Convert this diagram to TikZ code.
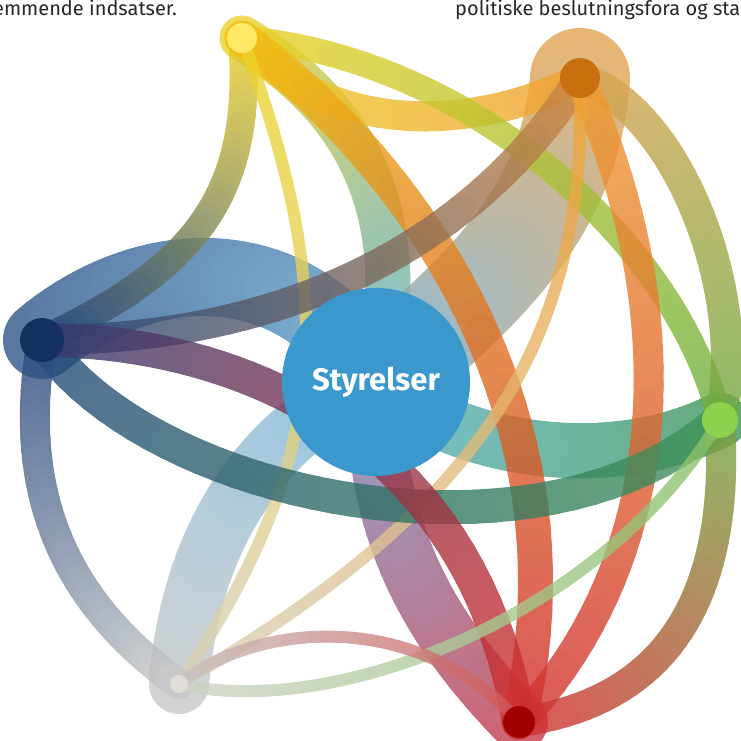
\documentclass[tikz,border=0pt]{standalone}
\usepackage{fontspec}
\setmainfont{Fira Sans}
\usetikzlibrary{calc}

\definecolor{dot_yellow}{HTML}{FFE866}
\definecolor{dot_orange}{HTML}{C87010}
\definecolor{dot_navy}{HTML}{13305F}
\definecolor{dot_green}{HTML}{8DD14F}
\definecolor{dot_red}{HTML}{A00000}
\definecolor{dot_gray}{HTML}{E0DDD8}
\definecolor{cor_center}{HTML}{3A98CC}

\definecolor{cor_yellow}{HTML}{EDD228}
\definecolor{cor_gold}{HTML}{F2C010}
\definecolor{cor_orange}{HTML}{F0A030}
\definecolor{cor_tan}{HTML}{E2A452}
\definecolor{cor_rust}{HTML}{D08840}
\definecolor{cor_navy}{HTML}{24467A}
\definecolor{cor_slate}{HTML}{2E5488}
\definecolor{cor_purple}{HTML}{2E3C74}
\definecolor{cor_green}{HTML}{3E9458}
\definecolor{cor_lime}{HTML}{6CB040}
\definecolor{cor_olive}{HTML}{74A842}
\definecolor{cor_mint}{HTML}{86C064}
\definecolor{cor_red}{HTML}{D03030}
\definecolor{cor_salmon}{HTML}{D05858}
\definecolor{cor_rose}{HTML}{C83848}
\definecolor{cor_gray}{HTML}{C8C8C8}
\definecolor{cor_beige}{HTML}{D8D0B8}
\definecolor{cor_mist}{HTML}{D0D4C8}
\definecolor{cor_teal}{HTML}{62AEC0}
\definecolor{cor_steel}{HTML}{7EA8C2}
\definecolor{cor_sky}{HTML}{5E9ECC}
\definecolor{cor_lilac}{HTML}{7C84B4}
\definecolor{cor_ice}{HTML}{7AB6D8}
\definecolor{cor_sea}{HTML}{58B2BC}

\pgfdeclarelayer{front}
\pgfsetlayers{main,front}

% #1 from, #2 to, #3 #4 controls, #5 #6 colours, #7 width
\newcommand{\band}[7]{%
  \begin{scope}[transparency group, opacity=0.8]
    \foreach \k in {0,...,40}
      \path (#1.center) .. controls #3 and #4 .. (#2.center) coordinate[pos=\k/40] (bp\k);
    \foreach \k [remember=\k as \j (initially 0)] in {1,...,40} {
      \pgfmathsetmacro\pct{(\k-0.5)*2.5}
      \draw[line width=#7pt, line cap=round, #6!\pct!#5] (bp\j) -- (bp\k);
    }
  \end{scope}}

\begin{document}
\begin{tikzpicture}[x=1pt,y=-1pt]
        \tikzset{
            hub/.style={
                circle,
                fill=#1,
                inner sep=0pt
            },
            caption/.style={
                anchor=base west,
                font=\fontsize{20}{22}\selectfont,
                text=black!85,
                inner sep=0pt
            }
        }
        \useasboundingbox (0,0) rectangle (741,740);

        \begin{pgfonlayer}{front}
        \node[hub=dot_yellow, minimum size=30pt] (yellowhub) at (242,38) {};
        \node[hub=dot_orange, minimum size=40pt] (orangehub) at (580,78) {};
        \node[hub=dot_navy, minimum size=44pt] (navyhub) at (42,340) {};
        \node[hub=dot_green, minimum size=36pt] (greenhub) at (720,420) {};
        \node[hub=dot_red, minimum size=32pt] (redhub) at (519,722) {};
        \node[hub=dot_gray, minimum size=18pt] (grayhub) at (179,684) {};
        \node[hub=cor_center, minimum size=188pt, text=white,
              font=\fontsize{31}{34}\selectfont\bfseries] (styrelser) at (376,382) {Styrelser};
        \end{pgfonlayer}

        %til styrelser
        \band{yellowhub}{styrelser}{(335,95)}{(420,190)}{cor_yellow}{cor_teal}{45}
        \band{orangehub}{styrelser}{(570,220)}{(470,300)}{cor_tan}{cor_steel}{100}
        \band{navyhub}{styrelser}{(150,250)}{(300,250)}{cor_slate}{cor_sky}{78}
        \band{greenhub}{styrelser}{(620,470)}{(470,460)}{cor_green}{cor_sea}{55}
        \band{redhub}{styrelser}{(450,650)}{(370,550)}{cor_rose}{cor_lilac}{58}
        \band{grayhub}{styrelser}{(190,540)}{(260,430)}{cor_gray}{cor_ice}{60}

        %gul
        \band{yellowhub}{navyhub}{(255,200)}{(190,270)}{cor_yellow}{cor_navy}{28}
        \band{yellowhub}{orangehub}{(330,140)}{(480,130)}{cor_yellow}{cor_orange}{30}
        \band{yellowhub}{greenhub}{(480,60)}{(680,250)}{cor_yellow}{cor_lime}{25}
        \band{yellowhub}{redhub}{(420,170)}{(590,420)}{cor_gold}{cor_red}{35}
        \band{yellowhub}{grayhub}{(340,300)}{(330,460)}{cor_yellow}{cor_beige}{12}

        %orange
        \band{orangehub}{navyhub}{(470,250)}{(280,340)}{cor_rust}{cor_navy}{30}
        \band{orangehub}{greenhub}{(680,110)}{(750,300)}{cor_tan}{cor_olive}{32}
        \band{orangehub}{redhub}{(680,300)}{(680,550)}{cor_orange}{cor_red}{30}
        \band{orangehub}{grayhub}{(590,360)}{(460,520)}{cor_orange}{cor_beige}{12}

        %navy
        \band{navyhub}{greenhub}{(150,500)}{(540,580)}{cor_navy}{cor_green}{34}
        \band{navyhub}{redhub}{(230,340)}{(470,430)}{cor_purple}{cor_red}{34}
        \band{navyhub}{grayhub}{(10,520)}{(90,620)}{cor_navy}{cor_gray}{30}

        %groen og roed
        \band{greenhub}{redhub}{(730,580)}{(680,700)}{cor_olive}{cor_red}{30}
        \band{greenhub}{grayhub}{(600,620)}{(330,720)}{cor_mint}{cor_mist}{12}
        \band{grayhub}{redhub}{(260,620)}{(420,610)}{cor_gray}{cor_salmon}{12}

        \node[caption] (txtleft) at (-7,15) {emmende indsatser.};
        \node[caption] (txtright) at (455,15) {politiske beslutningsfora og sta};

\end{tikzpicture}
\end{document}
